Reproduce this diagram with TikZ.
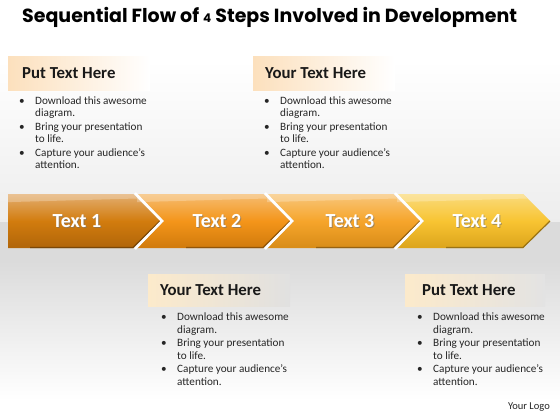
\documentclass[tikz,border=0pt]{standalone}
\usepackage{fontspec}
\setmainfont{Carlito}
\newfontfamily\titlefont{Poppins}
\usepackage{xcolor}

\definecolor{arrow1}{HTML}{D27C0E}
\definecolor{arrowtop1}{HTML}{E3AE70}
\definecolor{arrowlow1}{HTML}{B0650A}
\definecolor{arrow2}{HTML}{F4951A}
\definecolor{arrowtop2}{HTML}{F5BC70}
\definecolor{arrowlow2}{HTML}{D07A0C}
\definecolor{arrow3}{HTML}{F6A52B}
\definecolor{arrowtop3}{HTML}{F8C67A}
\definecolor{arrowlow3}{HTML}{D88C18}
\definecolor{arrow4}{HTML}{F8C432}
\definecolor{arrowtop4}{HTML}{FADB7C}
\definecolor{arrowlow4}{HTML}{DCA41C}
\definecolor{peach}{HTML}{FCE0BD}
\definecolor{cream}{HTML}{FCEACB}

\newcommand{\pointlist}{%
    \begin{tabular}[t]{@{}p{16pt}@{}l@{}}
        \textbullet & Download this awesome\\
                    & diagram.\\
        \textbullet & Bring your presentation\\
                    & to life.\\
        \textbullet & Capture your audience’s\\
                    & attention.
    \end{tabular}}

\tikzset{
    headtext/.style={anchor=west, font=\fontsize{16.8}{16.8}\selectfont\bfseries, text=black!90, inner sep=0pt},
    pointtext/.style={anchor=base west, font=\fontsize{11.2}{13}\selectfont, text=black!85, inner sep=0pt},
    steplabel/.style={font=\fontsize{20}{20}\selectfont\bfseries, text=white, inner sep=0pt},
    steplabelshadow/.style={steplabel, text=black!55, opacity=0.6},
}

\begin{document}
\begin{tikzpicture}[x=1pt, y=-1pt]
            \useasboundingbox (0, 0) rectangle (560, 420);
            \fill[white] (0, 0) rectangle (560, 420);
            \shade[top color=white, bottom color=black!7] (0, 60) rectangle (560, 222);
            \fill[black!14] (0, 222) rectangle (560, 262);
            \shade[top color=black!14, bottom color=white] (0, 262) rectangle (560, 400);

            \node[anchor=west, inner sep=0pt, font=\titlefont\fontsize{19}{19}\selectfont\bfseries] (title) at (22, 17)
                {Sequential Flow of {\fontsize{12}{12}\selectfont 4} Steps Involved in Development};

            % header boxes
            \shade[left color=peach, right color=white] (8, 57) rectangle (150, 91);
            \shade[left color=peach, right color=white] (253, 57) rectangle (395, 91);
            \shade[left color=cream, right color=black!12] (148, 274) rectangle (290, 306);
            \shade[left color=cream, right color=black!11] (405, 274) rectangle (545, 306);

            \node[headtext] (head1) at (22, 73) {Put Text Here};
            \node[headtext] (head2) at (265, 73) {Your Text Here};
            \node[headtext] (head3) at (160, 290) {Your Text Here};
            \node[headtext] (head4) at (422, 290) {Put Text Here};

            \node[pointtext] (list1) at (19, 104) {\pointlist};
            \node[pointtext] (list2) at (264, 104) {\pointlist};
            \node[pointtext] (list3) at (161, 320) {\pointlist};
            \node[pointtext] (list4) at (417, 320) {\pointlist};

            % chevrons
            \foreach \i/\cx in {1/77, 2/217, 3/350, 4/477} {
                \pgfmathsetmacro\xL{\i==1 ? 8 : 7+130*(\i-1)}
                \pgfmathsetmacro\xR{3+130*\i}
                \pgfmathsetmacro\xN{\i==1 ? 8 : \xL+27}
                \shade[top color=arrowtop\i, bottom color=arrowlow\i, middle color=arrow\i]
                    (\xL, 194) -- (\xR, 194) -- (\xR+27, 221) -- (\xR, 248) -- (\xL, 248) -- (\xN, 221) -- cycle;
                \fill[white, opacity=0.25] (\xL, 194) -- (\xR, 194) -- (\xR+4, 198.5) -- (\xL+4, 202) -- (\xL, 202) -- cycle;
                \draw[arrowlow\i!70!black, line width=1.2pt] (\xN+22, 247.5) -- (\xR, 247.5) -- (\xR+27, 221);
                \node[steplabelshadow] at (\cx+1, 222) {Text \i};
                \node[steplabel] (step\i) at (\cx, 221) {Text \i};
            }
            \foreach \i in {2, 3, 4} {
                \pgfmathsetmacro\xG{5+130*(\i-1)}
                \draw[white, line width=2.4pt, line join=miter] (\xG, 193) -- (\xG+27, 221) -- (\xG, 249);
            }

            \node[anchor=east, inner sep=0pt, font=\fontsize{10.5}{10.5}\selectfont, text=black!85] (logo) at (550, 407) {Your Logo};
        \end{tikzpicture}
\end{document}
